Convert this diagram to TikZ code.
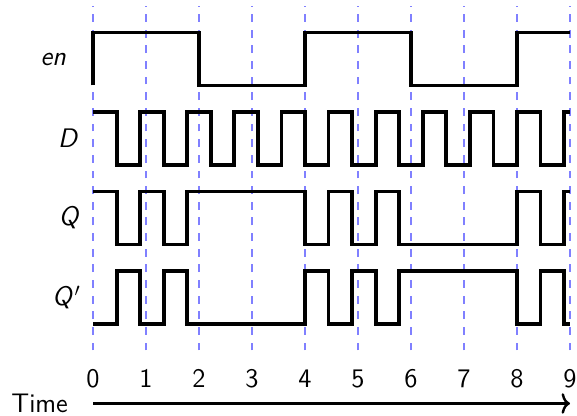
\documentclass[tikz,border=0pt]{standalone}
\usepackage{amsmath,amssymb}
\usepackage{xcolor}
\usepackage{tikz}
\usetikzlibrary{arrows.meta}

\begin{document}
\begin{tikzpicture}[
    signal/.style={draw=black, line width=2.1pt},
    gridline/.style={draw=blue!50, line width=1.1pt, dash pattern=on 4.2pt off 4.2pt},
    sig label/.style={font=\Large\sffamily\itshape},
    tick label/.style={font=\Large\sffamily}
  ]
    \useasboundingbox (-1.755,-1.736) rectangle (9.132,6.113);

    % time grid
    \foreach \t in {0,...,9} {
      \draw[gridline] (\t,-0.5) -- (\t,6);
      \node[tick label] (tick\t) at (\t,-1.03) {\t};
    }

    % signal names
    \node[sig label] (en) at (-0.75,5) {en};
    \node[sig label] (d) at (-0.48,3.5) {D};
    \node[sig label] (q) at (-0.46,2) {Q};
    \node[sig label] (qbar) at (-0.5,0.5) {Q\kern1.5pt$'$};

    % waveforms
    \draw[signal] (0,4.5) -- (0,5.5) -| (2,4.5) -| (4,5.5) -| (6,4.5) -| (8,5.5) -- (9,5.5);
    \draw[signal] (0,4) -| (0.444,3) -| (0.889,4) -| (1.333,3) -| (1.778,4) -| (2.222,3)
      -| (2.667,4) -| (3.111,3) -| (3.556,4) -| (4,3) -| (4.444,4) -| (4.889,3)
      -| (5.333,4) -| (5.778,3) -| (6.222,4) -| (6.667,3) -| (7.111,4) -| (7.556,3)
      -| (8,4) -| (8.444,3) -| (8.889,4) -- (9,4);
    \draw[signal] (0,2.5) -| (0.444,1.5) -| (0.889,2.5) -| (1.333,1.5) -| (1.778,2.5)
      -| (4,1.5) -| (4.444,2.5) -| (4.889,1.5) -| (5.333,2.5) -| (5.778,1.5)
      -| (8,2.5) -| (8.444,1.5) -| (8.889,2.5) -- (9,2.5);
    \draw[signal] (0,0) -| (0.444,1) -| (0.889,0) -| (1.333,1) -| (1.778,0)
      -| (4,1) -| (4.444,0) -| (4.889,1) -| (5.333,0) -| (5.778,1)
      -| (8,0) -| (8.444,1) -| (8.889,0) -- (9,0);

    % time axis
    \node[tick label, anchor=east] (time) at (-0.35,-1.5) {Time};
    \coordinate (tend) at (9,-1.5);
    \draw[line width=1.3pt, -{To[length=4.5pt,width=11pt]}] (time.east -| 0,0) -- (tend);
  \end{tikzpicture}
\end{document}
